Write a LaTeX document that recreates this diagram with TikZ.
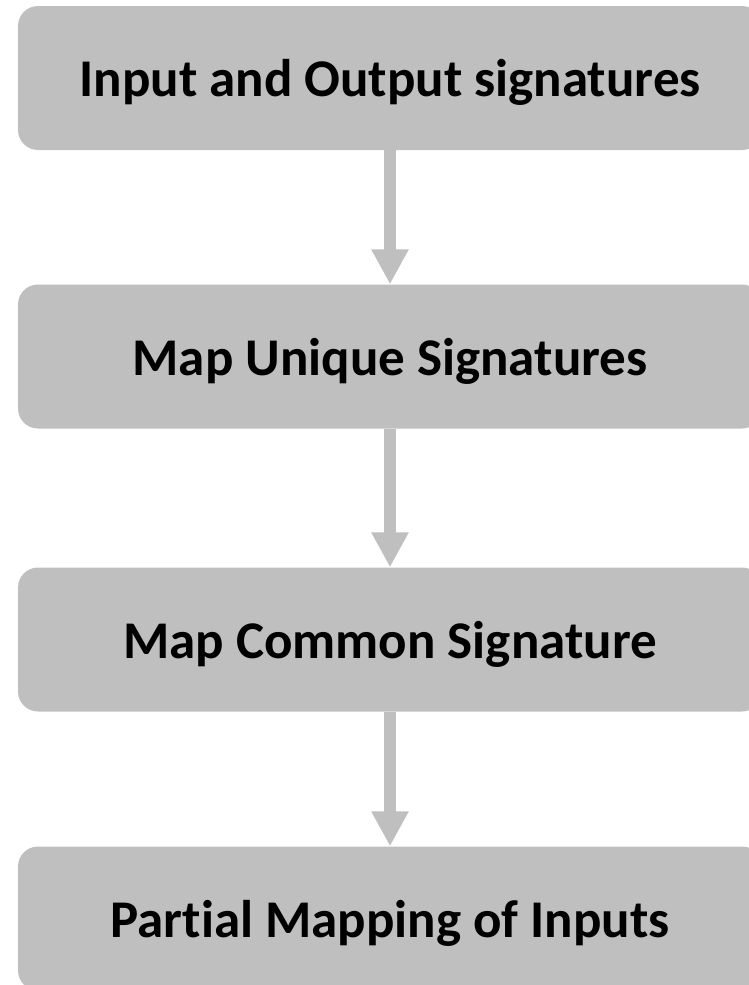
\documentclass[tikz,border=0pt]{standalone}
\usepackage{fontspec}
\setmainfont[Ligatures=NoCommon]{Carlito}
\usetikzlibrary{arrows.meta}
\definecolor{boxgray}{RGB}{191,191,191}

\begin{document}
\begin{tikzpicture}[x=1pt, y=1pt,
        stage/.style={fill=boxgray, rounded corners=20pt, minimum width=744pt, minimum height=144pt, inner sep=0pt, text depth=0pt, font=\fontsize{53}{64}\selectfont\bfseries},
        flow/.style={draw=boxgray, line width=12pt, -{Triangle[width=35pt, length=35pt]}}]
        \useasboundingbox (0,0) rectangle (748,-985);
        \node[stage] (io) at (390,-78) {Input and Output signatures};
        \node[stage] (unique) at (390,-356.5) {Map Unique Signatures};
        \node[stage] (common) at (390,-639.5) {Map Common Signature};
        \node[stage] (partial) at (390,-918.5) {Partial Mapping of Inputs};
        \draw[flow] (io) -- (unique);
        \draw[flow] (unique) -- (common);
        \draw[flow] (common) -- (partial);
    \end{tikzpicture}
\end{document}
